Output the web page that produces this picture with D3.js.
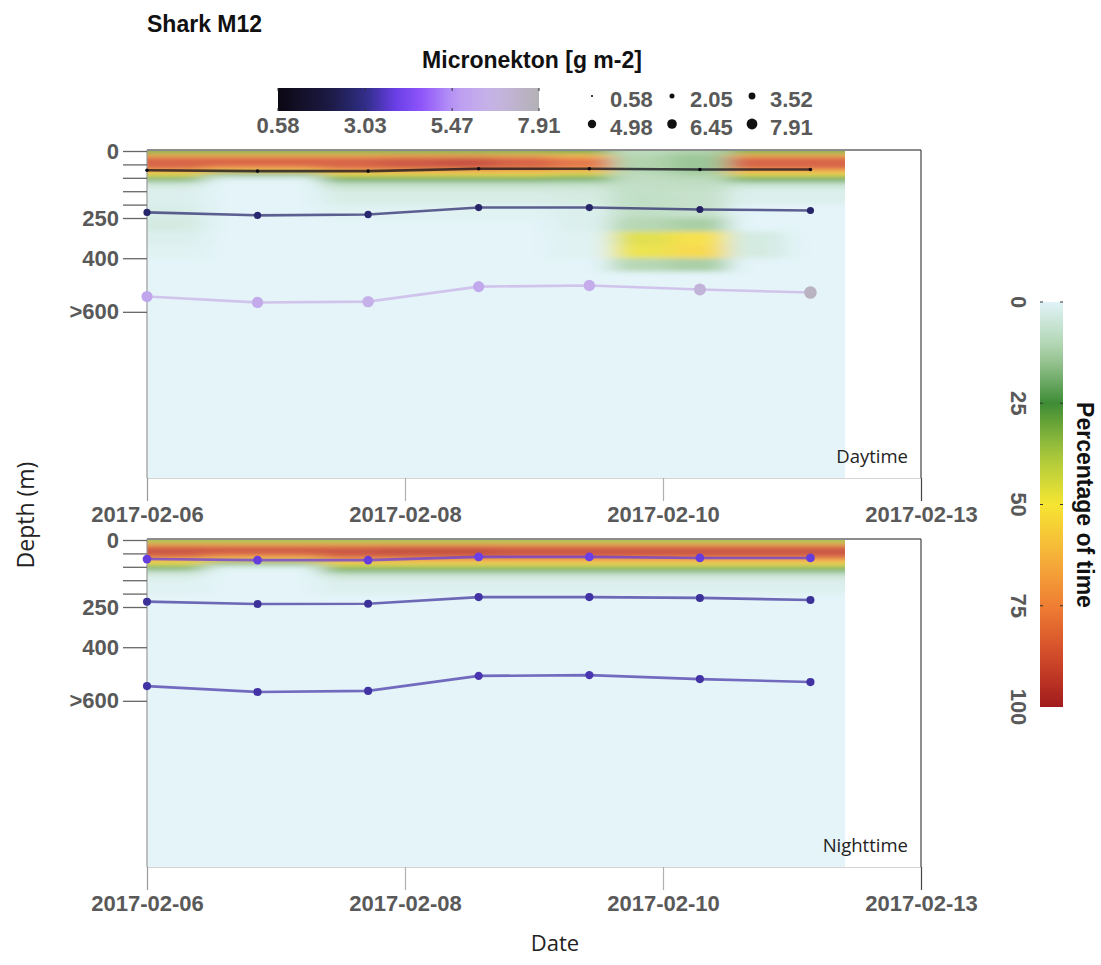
<!DOCTYPE html>
<html lang="en">
<head>
<meta charset="utf-8">
<script src="https://cdn.jsdelivr.net/npm/d3@7"></script>
<style>
body { margin: 0; background: #fff; }
.num { font-family: "Liberation Sans", Arial, sans-serif; font-weight: bold; fill: #595959; }
.seg { font-family: "Open Sans", "Noto Sans", sans-serif; fill: #222; }
</style>
</head>
<body>
<script>
// ---- data ----
var xTickDays = [0, 2, 4, 6];
var xTickLabels = ["2017-02-06", "2017-02-08", "2017-02-10", "2017-02-13"];
var yTickDepths = [0, 250, 400, 600];
var yTickLabels = ["0", "250", "400", ">600"];
var yMinorDepths = [50, 100, 150, 200];

// sampling times of the scattering layers (days after 2017-02-06)
var pointDays = [0, 0.857, 1.714, 2.571, 3.429, 4.286, 5.143];

// layer depths (m) and micronekton biomass (g m-2)
var dayDepths = [
  [72, 75, 75, 66, 66, 69, 69],
  [229, 240, 237, 211, 211, 218, 222],
  [543, 565, 562, 506, 502, 517, 528]
];
var dayBiomass = [
  [0.7, 0.7, 0.7, 0.7, 0.7, 0.7, 0.7],
  [2.6, 2.7, 2.7, 2.6, 2.6, 2.5, 2.6],
  [6.0, 6.2, 6.4, 6.1, 6.3, 7.0, 7.6]
];
var nightDepths = [
  [71, 75, 75, 63, 63, 67, 67],
  [230, 239, 238, 213, 213, 216, 224],
  [545, 567, 563, 507, 504, 519, 530]
];
var nightBiomass = [
  [3.8, 3.8, 3.8, 3.9, 3.9, 3.8, 3.8],
  [3.2, 3.2, 3.2, 3.3, 3.3, 3.2, 3.2],
  [3.3, 3.3, 3.3, 3.4, 3.4, 3.3, 3.3]
];

// shark time-at-depth (% of time), columns = time bins, rows = depth bins
var heatEdgeDays = [0, 0.45, 0.9, 1.35, 1.8, 2.25, 2.7, 3.15, 3.6, 4.05, 4.5, 4.95, 5.41];
var depthEdges = [0, 10, 20, 30, 40, 50, 60, 70, 80, 90, 100, 110, 120, 130, 150, 200, 250, 300, 350, 400, 450, 1300];

var dayHeat = [
  [30, 62, 84, 88, 88, 88, 84, 68, 52, 36, 22, 12, 6, 3, 2, 3, 4, 2, 1, 0, 0],
  [30, 62, 84, 88, 88, 84, 74, 52, 25, 8, 2, 0, 0, 0, 0, 0, 0, 0, 0, 0, 0],
  [30, 62, 84, 88, 88, 84, 74, 52, 25, 8, 2, 0, 0, 0, 0, 0, 0, 0, 0, 0, 0],
  [30, 62, 84, 88, 88, 88, 84, 68, 52, 36, 25, 15, 9, 6, 3, 1, 0, 0, 0, 0, 0],
  [30, 64, 86, 90, 92, 90, 86, 70, 52, 36, 25, 15, 9, 6, 3, 1, 0, 0, 0, 0, 0],
  [30, 64, 88, 93, 94, 92, 86, 70, 52, 36, 25, 15, 9, 6, 3, 1, 0, 0, 0, 0, 0],
  [30, 62, 84, 88, 88, 88, 84, 68, 52, 36, 25, 15, 9, 6, 3, 1, 0, 0, 0, 0, 0],
  [28, 56, 76, 82, 82, 82, 78, 62, 46, 32, 22, 14, 9, 6, 4, 2, 2, 1, 1, 0, 0],
  [10, 12, 13, 13, 13, 13, 13, 12, 11, 10, 10, 9, 9, 9, 9, 9, 12, 46, 48, 12, 0],
  [13, 15, 16, 16, 16, 16, 16, 15, 14, 12, 11, 10, 9, 9, 8, 8, 14, 52, 54, 14, 0],
  [30, 62, 84, 88, 88, 88, 84, 68, 52, 36, 25, 15, 8, 4, 2, 0, 0, 4, 4, 0, 0],
  [30, 62, 84, 88, 88, 88, 84, 68, 52, 36, 25, 15, 8, 4, 2, 0, 0, 0, 0, 0, 0]
];
var nightHeat = [
  [35, 66, 86, 92, 92, 90, 82, 66, 50, 35, 22, 12, 6, 3, 1, 0, 0, 0, 0, 0, 0],
  [35, 66, 86, 92, 90, 84, 72, 52, 25, 8, 2, 0, 0, 0, 0, 0, 0, 0, 0, 0, 0],
  [35, 66, 86, 92, 90, 84, 72, 52, 25, 8, 2, 0, 0, 0, 0, 0, 0, 0, 0, 0, 0],
  [35, 66, 86, 92, 92, 90, 84, 70, 56, 42, 30, 20, 11, 5, 2, 0, 0, 0, 0, 0, 0],
  [35, 66, 88, 93, 94, 92, 85, 70, 56, 42, 30, 20, 11, 5, 2, 0, 0, 0, 0, 0, 0],
  [35, 66, 88, 93, 94, 92, 85, 70, 56, 42, 30, 20, 11, 5, 2, 0, 0, 0, 0, 0, 0],
  [35, 66, 86, 92, 92, 90, 84, 70, 56, 42, 30, 20, 11, 5, 2, 0, 0, 0, 0, 0, 0],
  [35, 66, 86, 92, 92, 90, 84, 70, 56, 42, 30, 20, 11, 5, 2, 0, 0, 0, 0, 0, 0],
  [35, 66, 86, 92, 92, 90, 84, 70, 56, 42, 30, 20, 11, 5, 2, 0, 0, 0, 0, 0, 0],
  [35, 66, 86, 92, 92, 90, 84, 70, 56, 42, 30, 20, 11, 5, 2, 0, 0, 0, 0, 0, 0],
  [35, 66, 86, 92, 92, 90, 84, 70, 56, 42, 30, 20, 11, 5, 2, 0, 0, 0, 0, 0, 0],
  [35, 66, 86, 92, 92, 90, 84, 70, 56, 42, 30, 20, 11, 5, 2, 0, 0, 0, 0, 0, 0]
];

var biomassTicks = [0.58, 3.03, 5.47, 7.91];
var sizeLegendValues = [0.58, 2.05, 3.52, 4.98, 6.45, 7.91];
var pctTicks = [0, 25, 50, 75, 100];

// ---- scales ----
var pctColor = d3.scaleLinear()
  .domain([0, 12.5, 25, 37.5, 50, 62.5, 75, 87.5, 100])
  .range(["#e0f3f8", "#a9d0a6", "#3e8c35", "#a6c73c", "#f6e532", "#f6b33a", "#ef7e33", "#d24a2a", "#a11b1d"]);

var bmMin = 0.58, bmMax = 7.91;
var bmColor = d3.scaleLinear()
  .domain([0, 0.2, 0.333, 0.45, 0.55, 0.68, 0.82, 1].map(function(f) { return bmMin + f * (bmMax - bmMin); }))
  .range(["#0b0712", "#1d1a45", "#2e2e85", "#6a3ee6", "#8f55fb", "#bb9cf4", "#c8b4e6", "#b3b1b5"]);
var bmSize = d3.scaleSqrt().domain([bmMin, bmMax]).range([1.6, 6.4]);
var legendSize = d3.scaleSqrt().domain([bmMin, bmMax]).range([1.1, 5.4]);

var x = d3.scaleLinear().domain([0, 6]).range([147, 921]);

var svg = d3.select("body").append("svg")
  .attr("width", 1101).attr("height", 965);
var defs = svg.append("defs");

// ---- titles ----
svg.append("text").attr("x", 147).attr("y", 32)
  .style("font", "bold 23px 'Liberation Sans', Arial, sans-serif").style("fill", "#111")
  .text("Shark M12");
svg.append("text").attr("x", 532).attr("y", 68).attr("text-anchor", "middle")
  .style("font", "bold 23px 'Liberation Sans', Arial, sans-serif").style("fill", "#111")
  .text("Micronekton [g m-2]");

// micronekton colour bar
var cbx = d3.scaleLinear().domain([bmMin, bmMax]).range([278, 539]);
var bmGrad = defs.append("linearGradient").attr("id", "bmGrad");
d3.range(0, 1.0001, 0.05).forEach(function(f) {
  bmGrad.append("stop").attr("offset", f)
    .attr("stop-color", bmColor(bmMin + f * (bmMax - bmMin)));
});
svg.append("rect").attr("x", 278).attr("y", 88).attr("width", 261).attr("height", 23)
  .style("fill", "url(#bmGrad)");
biomassTicks.forEach(function(v) {
  svg.append("line").attr("x1", cbx(v)).attr("x2", cbx(v)).attr("y1", 88).attr("y2", 91)
    .style("stroke", "#333").style("stroke-width", 1);
  svg.append("line").attr("x1", cbx(v)).attr("x2", cbx(v)).attr("y1", 108).attr("y2", 111)
    .style("stroke", "#333").style("stroke-width", 1);
  svg.append("text").attr("class", "num").attr("x", cbx(v)).attr("y", 133)
    .attr("text-anchor", "middle").style("font-size", "22px").text(v.toFixed(2));
});

// size legend
var sl = svg.selectAll(".sizeleg").data(sizeLegendValues).enter().append("g")
  .attr("class", "sizeleg")
  .attr("transform", function(d, i) { return "translate(" + (592 + (i % 3) * 80) + "," + (96 + Math.floor(i / 3) * 28) + ")"; });
sl.append("circle").attr("r", function(d) { return legendSize(d); }).style("fill", "#111");
sl.append("text").attr("class", "num").attr("x", 18).attr("y", 11)
  .style("font-size", "22px").text(function(d) { return d.toFixed(2); });

// ---- panels ----
function drawPanel(top, heat, depths, biomass, name, id) {
  var bottom = top + 328;
  var y = d3.scaleLinear().domain([0, 1220]).range([top + 1, bottom]);
  var g = svg.append("g");

  defs.append("clipPath").attr("id", "clip" + id)
    .append("rect").attr("x", x(0)).attr("y", top + 1)
    .attr("width", x(heatEdgeDays[heatEdgeDays.length - 1]) - x(0)).attr("height", bottom - top - 1);
  defs.append("filter").attr("id", "blur" + id)
    .attr("filterUnits", "userSpaceOnUse").attr("x", 0).attr("y", 0).attr("width", 1101).attr("height", 965)
    .append("feGaussianBlur").attr("stdDeviation", "12 2.8");

  var hc = g.append("g").attr("clip-path", "url(#clip" + id + ")")
    .append("g").style("opacity", 0.86).attr("filter", "url(#blur" + id + ")");
  var nCol = heat.length;
  heat.forEach(function(col, c) {
    var x0 = x(heatEdgeDays[c]), x1 = x(heatEdgeDays[c + 1]);
    if (c === 0) x0 -= 60;
    if (c === nCol - 1) x1 += 60;
    col.forEach(function(v, r) {
      var y0 = y(depthEdges[r]), y1 = y(depthEdges[r + 1]);
      if (r === 0) y0 -= 20;
      hc.append("rect").attr("x", x0).attr("y", y0)
        .attr("width", x1 - x0 + 0.5).attr("height", y1 - y0 + 0.5)
        .style("fill", pctColor(v));
    });
  });

  // frame
  g.append("line").attr("x1", x(0)).attr("x2", x(6)).attr("y1", bottom + 0.5).attr("y2", bottom + 0.5)
    .style("stroke", "#d4d4d4").style("stroke-width", 1.2);
  g.append("line").attr("x1", x(0)).attr("x2", x(6)).attr("y1", top).attr("y2", top)
    .style("stroke", "#8c8c8c").style("stroke-width", 2);
  g.append("line").attr("x1", x(0)).attr("x2", x(0)).attr("y1", top).attr("y2", bottom)
    .style("stroke", "#9a9a9a").style("stroke-width", 1.2);
  g.append("line").attr("x1", x(6)).attr("x2", x(6)).attr("y1", top).attr("y2", bottom)
    .style("stroke", "#444").style("stroke-width", 1.2);

  // y axis
  var yAx = g.append("g").attr("transform", "translate(" + x(0) + ",0)")
    .call(d3.axisLeft(y).tickValues(yTickDepths).tickSize(24).tickPadding(4)
      .tickFormat(function(d, i) { return yTickLabels[i]; }));
  var yMin = g.append("g").attr("transform", "translate(" + x(0) + ",0)")
    .call(d3.axisLeft(y).tickValues(yMinorDepths).tickSize(24).tickFormat(""));
  [yAx, yMin].forEach(function(a) {
    a.select(".domain").remove();
    a.selectAll(".tick line").style("stroke", "#666").style("stroke-width", 1.3);
  });
  yAx.selectAll(".tick text").attr("class", "num").style("font-size", "22px");

  // x axis
  var xAx = g.append("g").attr("transform", "translate(0," + bottom + ")")
    .call(d3.axisBottom(x).tickValues(xTickDays).tickSize(23).tickPadding(5)
      .tickFormat(function(d, i) { return xTickLabels[i]; }));
  xAx.select(".domain").remove();
  xAx.selectAll(".tick line").style("stroke", function(d, i) { return i === 0 ? "#9a9a9a" : (i === 3 ? "#444" : "#b0b0b0"); })
    .style("stroke-width", 1.2);
  xAx.selectAll(".tick text").attr("class", "num").style("font-size", "22px");

  // scattering layers
  var line = d3.line().x(function(d) { return x(d.t); }).y(function(d) { return y(d.depth); });
  depths.forEach(function(layer, li) {
    var pts = layer.map(function(dp, i) { return { t: pointDays[i], depth: dp, bm: biomass[li][i] }; });
    g.append("path").datum(pts).attr("d", line)
      .style("fill", "none").style("stroke", bmColor(d3.mean(biomass[li])))
      .style("stroke-opacity", 0.72).style("stroke-width", 2.6);
    g.selectAll(".pt" + li).data(pts).enter().append("circle")
      .attr("cx", function(d) { return x(d.t); }).attr("cy", function(d) { return y(d.depth); })
      .attr("r", function(d) { return bmSize(d.bm); })
      .style("fill", function(d) { return bmColor(d.bm); });
  });

  g.append("text").attr("class", "seg").attr("x", 908).attr("y", bottom - 15)
    .attr("text-anchor", "end").style("font-size", "18.5px").text(name);
}

drawPanel(150, dayHeat, dayDepths, dayBiomass, "Daytime", "d");
drawPanel(539, nightHeat, nightDepths, nightBiomass, "Nighttime", "n");

// axis titles
svg.append("text").attr("class", "seg").attr("transform", "translate(34,515) rotate(-90)")
  .attr("text-anchor", "middle").style("font-size", "23px").text("Depth (m)");
svg.append("text").attr("class", "seg").attr("x", 555).attr("y", 951)
  .attr("text-anchor", "middle").style("font-size", "22px").text("Date");

// percentage colour bar
var py = d3.scaleLinear().domain([0, 100]).range([302, 707]);
var pGrad = defs.append("linearGradient").attr("id", "pGrad")
  .attr("x1", 0).attr("x2", 0).attr("y1", 0).attr("y2", 1);
d3.range(0, 100.1, 5).forEach(function(v) {
  pGrad.append("stop").attr("offset", v / 100).attr("stop-color", pctColor(v));
});
svg.append("rect").attr("x", 1040).attr("y", py(0)).attr("width", 23).attr("height", py(100) - py(0))
  .style("fill", "url(#pGrad)");
pctTicks.forEach(function(v) {
  if (v < 100) {
    svg.append("line").attr("x1", 1040).attr("x2", 1043).attr("y1", py(v)).attr("y2", py(v))
      .style("stroke", "#333");
    svg.append("line").attr("x1", 1060).attr("x2", 1063).attr("y1", py(v)).attr("y2", py(v))
      .style("stroke", "#333");
  }
  svg.append("text").attr("class", "num")
    .attr("transform", "translate(1011," + py(v) + ") rotate(90)")
    .attr("text-anchor", "middle").style("font-size", "22px").text(v);
});
svg.append("text").attr("transform", "translate(1077,505) rotate(90)")
  .attr("text-anchor", "middle")
  .style("font", "bold 23px 'Liberation Sans', Arial, sans-serif").style("fill", "#111")
  .text("Percentage of time");
</script>
</body>
</html>
